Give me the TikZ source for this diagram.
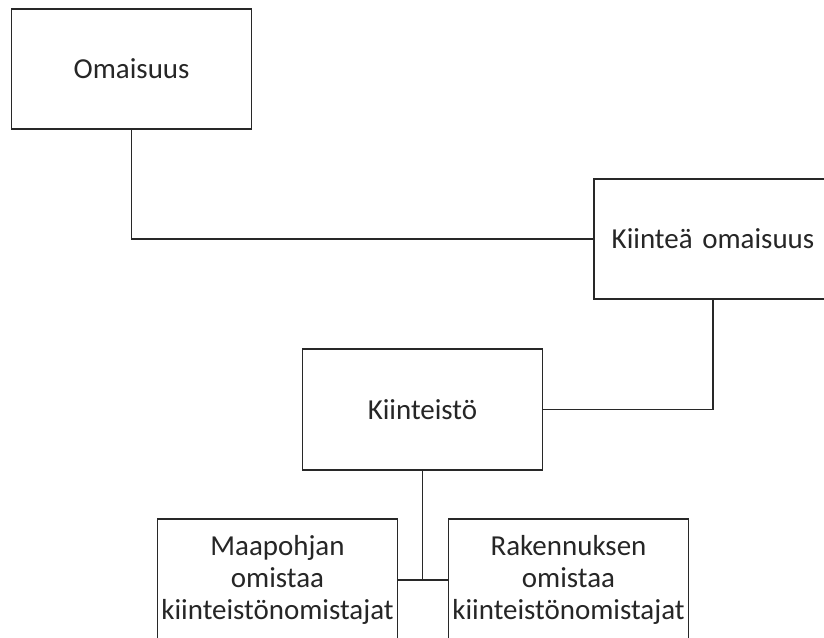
\documentclass[tikz,border=0pt]{standalone}
\usepackage{fontspec}
\setmainfont{Carlito}
\usetikzlibrary{positioning}
\definecolor{line_grey}{RGB}{40,40,40}

\begin{document}
\begin{tikzpicture}[
    box/.style={draw=line_grey, line width=1pt, fill=white, inner sep=0pt,
        minimum height=3cm, text width=6cm, align=center,
        font=\fontsize{20.6}{22.6}\selectfont, text=black!85}]
    \useasboundingbox (0,0) rectangle (20.6,-15.925);
    \clip (0,0) rectangle (20.6,-15.925);

    \node[box] (om) at (3.29,-1.725) {Omaisuus};
    \node[box, text width=5.95cm] (kiom) at (17.825,-5.975) {Kiinteä omaisuus};
    \node[box, minimum height=3.025cm] (kiint) at (10.5625,-10.2375) {Kiinteistö};
    \node[box, minimum height=3.05cm] (maa) at (6.9375,-14.5) {Maapohjan\\omistaa\\kiinteistönomistajat};
    \node[box, minimum height=3.05cm] (rak) at (14.2125,-14.5) {Rakennuksen\\omistaa\\kiinteistönomistajat};

    \draw[line_grey, line width=1pt] (om.south) |- (kiom.west);
    \draw[line_grey, line width=1pt] (kiom.south) |- (kiint.east);
    \draw[line_grey, line width=1pt] (kiint.south) -- (kiint.south |- maa.east);
    \draw[line_grey, line width=1pt] (maa.east) -- (rak.west);

\end{tikzpicture}
\end{document}
